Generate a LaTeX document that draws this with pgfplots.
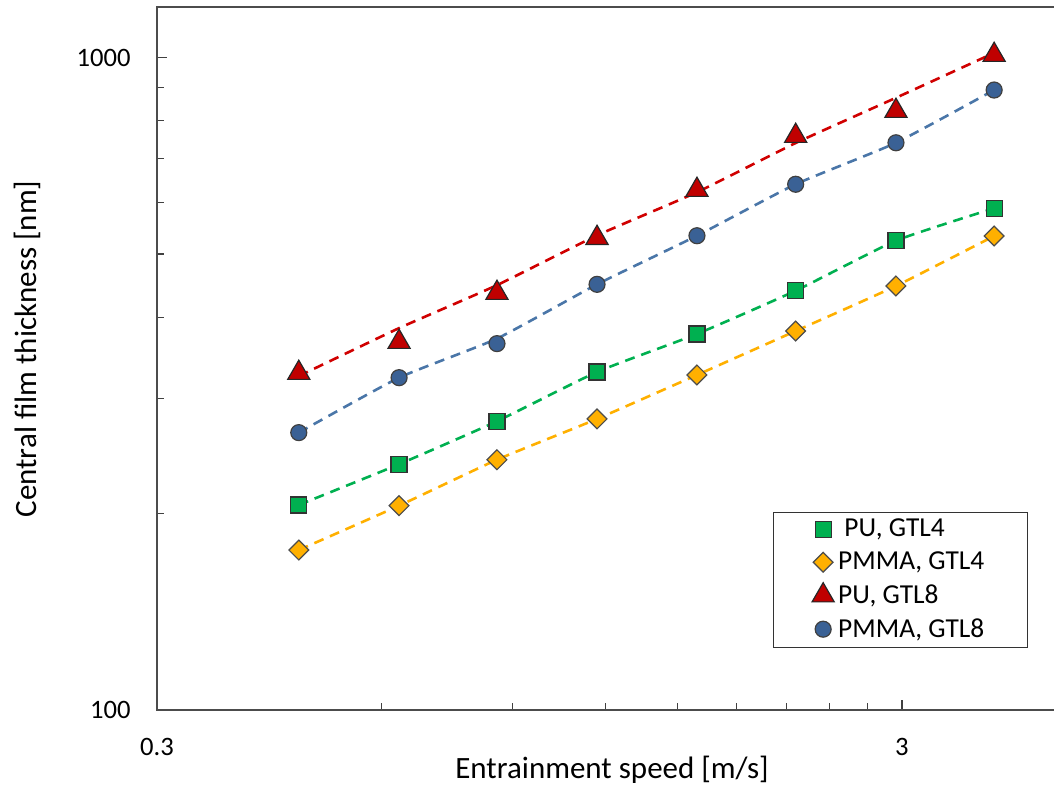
\documentclass[border=0pt]{standalone}
\usepackage{fontspec}
\setmainfont{Carlito}
\usepackage{pgfplots}
\pgfplotsset{compat=1.18}
\definecolor{cgreen}{HTML}{00B050}
\definecolor{corange}{HTML}{FFB000}
\definecolor{cred}{HTML}{C00000}
\definecolor{cblue}{HTML}{3A6195}
\definecolor{lred}{HTML}{D00000}
\definecolor{lblue}{HTML}{4A76A8}
\definecolor{lgreen}{HTML}{00B050}
\definecolor{lorange}{HTML}{FFB000}
\begin{document}
\begin{tikzpicture}
\begin{axis}[name=ax,
  xmode=log, ymode=log, scale only axis,
  width=452.5pt, height=351.5pt,
  xmin=0.3, xmax=4.92, ymin=100, ymax=1196,
  xtick={0.3,3}, xticklabels={0.3,3},
  ytick={100,1000}, yticklabels={100,1000},
  minor xtick={0.6,0.9,1.2,1.5,1.8,2.1,2.4,2.7},
  minor ytick={200,300,400,500,600,700,800,900},
  tick align=inside, tick pos=left,
  major tick length=5pt, minor tick length=3.5pt,
  every tick/.style={black!75, line width=0.6pt},
  axis line style={black!70, line width=1pt},
  /pgf/number format/assume math mode=true,
  ticklabel style={font=\fontsize{13.3}{16}\selectfont, inner sep=0pt},
  xticklabel style={yshift=-14pt},
  yticklabel style={xshift=-13pt},
  xlabel={Entrainment speed [m/s]},
  ylabel={Central film thickness [nm]},
  label style={font=\fontsize{15.5}{18}\selectfont},
  xlabel style={at={(axis description cs:0.5028,-0.0850)}, anchor=center},
  ylabel style={at={(axis description cs:-0.1436,0.5135)}, anchor=center},
  legend style={at={(0.6803,0.2821)}, anchor=north west, draw=black!80,
    inner xsep=19.5pt, inner ysep=1.5pt, row sep=2pt,
    font=\fontsize{13.7}{16}\selectfont,
    nodes={inner sep=2pt, text depth=0.15em}},
  legend cell align=left,
  clip=false,
]
% dashed lines
\addplot[forget plot, smooth, tension=0.3, lgreen, line width=1.3pt, dash pattern=on 5pt off 3.5pt] coordinates {
 (0.465,206.2) (0.634,238.1) (0.858,277.1) (1.169,329.8) (1.592,377.1) (2.160,439.3) (2.945,524.2) (3.99,587.7)};
\addplot[forget plot, smooth, tension=0.3, lorange, line width=1.3pt, dash pattern=on 5pt off 3.5pt] coordinates {
 (0.465,175.9) (0.634,205.7) (0.858,241.9) (1.169,279.4) (1.592,326.3) (2.160,381.1) (2.945,446.7) (3.99,532.9)};
\addplot[forget plot, smooth, tension=0.3, lred, line width=1.3pt, dash pattern=on 5pt off 3.5pt] coordinates {
 (0.465,325) (0.634,385) (0.858,448) (1.169,534) (1.592,622) (2.160,740) (2.945,868) (3.99,1017)};
\addplot[forget plot, smooth, tension=0.3, lblue, line width=1.3pt, dash pattern=on 5pt off 3.5pt] coordinates {
 (0.465,266.2) (0.634,323.2) (0.858,371) (1.169,449.3) (1.592,533.4) (2.160,639.7) (2.945,740.6) (3.99,892.1)};
% markers
\addplot[only marks, mark=square*, mark size=4pt, mark options={fill=cgreen, draw=black!80, line width=0.6pt, solid}] coordinates {
 (0.465,206.2) (0.634,238.1) (0.858,277.1) (1.169,329.8) (1.592,377.1) (2.160,439.3) (2.945,524.2) (3.99,587.7)};
\addlegendentry{\ PU, GTL4}
\addplot[only marks, mark=square*, mark size=3.5pt, mark options={rotate=45, fill=corange, draw=black!70, line width=0.6pt, solid}] coordinates {
 (0.465,175.9) (0.634,205.7) (0.858,241.9) (1.169,279.4) (1.592,326.3) (2.160,381.1) (2.945,446.7) (3.99,532.9)};
\addlegendentry{PMMA, GTL4}
\addplot[only marks, mark=triangle*, mark size=6.4pt, mark options={fill=cred, draw=black!85, line width=0.6pt, solid}] coordinates {
 (0.465,328.6) (0.634,366.6) (0.858,435.8) (1.169,529.1) (1.592,626.9) (2.160,758.6) (2.945,828.5) (3.99,1009.5)};
\addlegendentry{PU, GTL8}
\addplot[only marks, mark=*, mark size=4pt, mark options={fill=cblue, draw=black!75, line width=0.6pt, solid}] coordinates {
 (0.465,266.2) (0.634,323.2) (0.858,364.5) (1.169,449.3) (1.592,533.4) (2.160,639.7) (2.945,740.6) (3.99,892.1)};
\addlegendentry{PMMA, GTL8}
\end{axis}
\pgfresetboundingbox
\path ([xshift=-78.5pt,yshift=-37.5pt]ax.south west) rectangle ([xshift=448.5pt,yshift=3.5pt]ax.north west);
\end{tikzpicture}
\end{document}
